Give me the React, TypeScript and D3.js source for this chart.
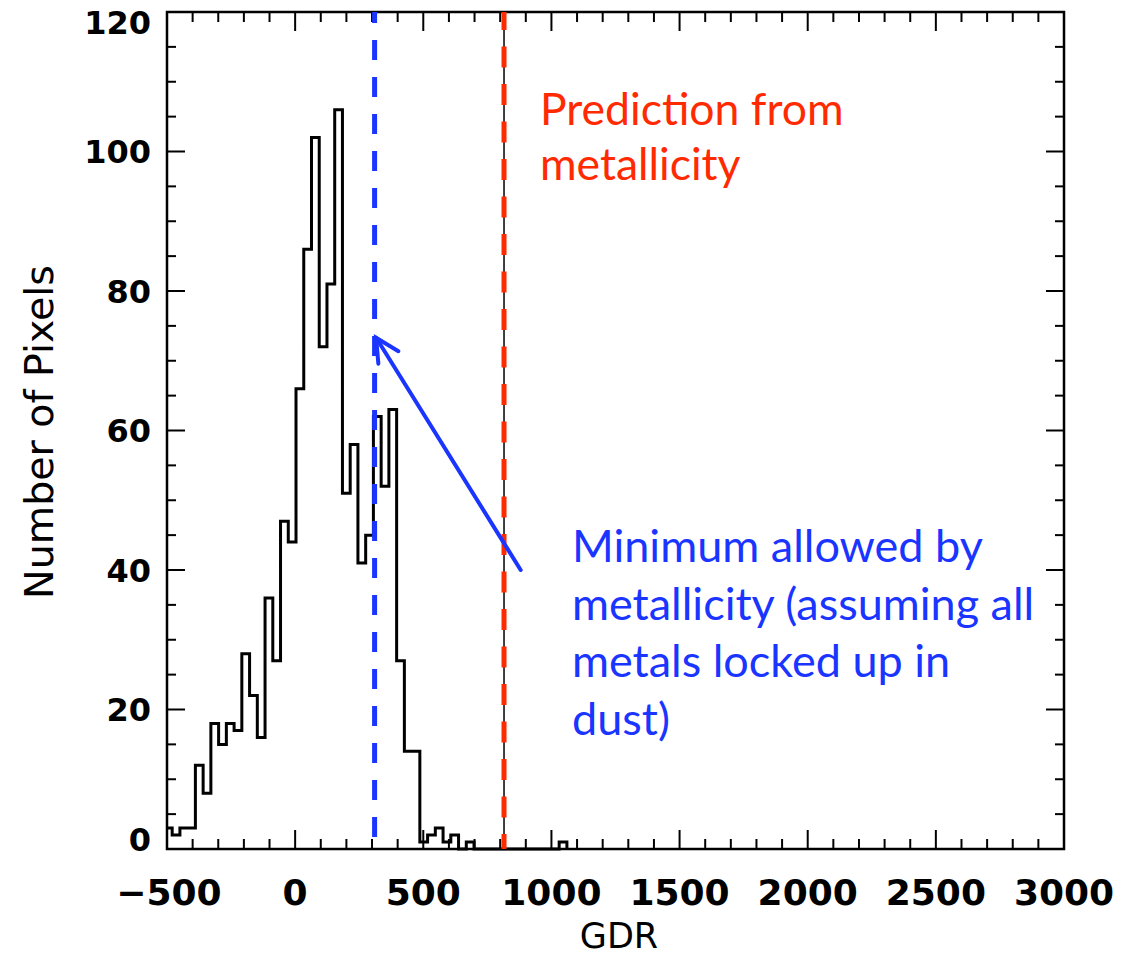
import React from "react";
import * as d3 from "d3";

// ---- data ----
const binStart = -510;
const binWidth = 30.2;
const counts = [
  3, 2, 3, 3, 12, 8, 18, 15, 18, 17, 28, 22, 16, 36, 27, 47, 44, 66, 86, 102, 72, 81, 106,
  51, 58, 41, 45, 62, 52, 63, 27, 14, 14, 1, 2, 3, 1, 2, 0, 1, 0, 0, 0, 0, 0, 0, 0, 0, 0, 0,
  0, 1,
];
const xTicksMajor = [-500, 0, 500, 1000, 1500, 2000, 2500, 3000];
const yTicksMajor = [0, 20, 40, 60, 80, 100, 120];
const minGDR = 310; // blue line
const predGDR = 815; // red line
const arrowFrom = [880, 40];
const arrowTo = [316, 73.3];
const redLines = ["Prediction from", "metallicity"];
const blueLines = ["Minimum allowed by", "metallicity (assuming all", "metals locked up in", "dust)"];

const W = 1126;
const H = 958;
const L = 167, R = 1064, T = 12, B = 849;
const RED = "#ff2a00";
const BLUE = "#1a35ff";

export default function App() {
  const x = d3.scaleLinear().domain([-500, 3000]).range([L, R]);
  const y = d3.scaleLinear().domain([0, 120]).range([B, T]);

  const pts: [number, number][] = counts.map((c, i) => [Math.max(binStart + i * binWidth, -500), c]);
  pts.push([binStart + counts.length * binWidth, counts[counts.length - 1]]);
  pts.push([binStart + counts.length * binWidth, 0]);
  const line = d3
    .line<[number, number]>()
    .x((d) => x(d[0]))
    .y((d) => y(d[1]))
    .curve(d3.curveStepAfter);

  const xMinor = d3.range(-500, 3001, 100);
  const yMinor = d3.range(0, 121, 5);

  const tip = [x(arrowTo[0]), y(arrowTo[1])];
  const tail = [x(arrowFrom[0]), y(arrowFrom[1])];
  const ang = Math.atan2(tail[1] - tip[1], tail[0] - tip[0]);
  const hl = 26;
  const ha = (27 * Math.PI) / 180;
  const h1 = [tip[0] + hl * Math.cos(ang - ha), tip[1] + hl * Math.sin(ang - ha)];
  const h2 = [tip[0] + hl * Math.cos(ang + ha), tip[1] + hl * Math.sin(ang + ha)];

  const tickFont = "DejaVu Sans";
  const yLabelShift = (v: number) => (v === 0 ? -10 : v === 120 ? 10 : 0);
  return (
    <svg width={W} height={H} style={{ position: "absolute", left: 0, top: 0, background: "#fff" }}>
      <rect x={0} y={0} width={W} height={H} fill="#fff" />
      {/* histogram */}
      <path d={line(pts) || ""} fill="none" stroke="#000" strokeWidth={3} strokeLinejoin="miter" />

      {/* x ticks */}
      {xMinor.map((v) => {
        const major = v % 500 === 0;
        const len = major ? 19 : 10;
        return (
          <g key={"xt" + v} stroke="#000" strokeWidth={2}>
            <line x1={x(v)} x2={x(v)} y1={B} y2={B - len} />
            <line x1={x(v)} x2={x(v)} y1={T} y2={T + len} />
          </g>
        );
      })}
      {yMinor.map((v) => {
        const major = v % 20 === 0;
        const len = major ? 18 : 9;
        return (
          <g key={"yt" + v} stroke="#000" strokeWidth={2}>
            <line x1={L} x2={L + len} y1={y(v)} y2={y(v)} />
            <line x1={R} x2={R - len} y1={y(v)} y2={y(v)} />
          </g>
        );
      })}
      <rect x={L} y={T} width={R - L} height={B - T} fill="none" stroke="#000" strokeWidth={2.5} />

      {/* tick labels */}
      {xTicksMajor.map((v) => (
        <text
          key={"xl" + v}
          x={x(v) + (v < 0 ? 2 : 0)}
          y={B + 56}
          textAnchor="middle"
          fontFamily={tickFont}
          fontWeight="bold"
          fontSize={36}
        >
          {v < 0 ? "\u2212" + Math.abs(v) : String(v)}
        </text>
      ))}
      {yTicksMajor.map((v) => (
        <text
          key={"yl" + v}
          x={151}
          y={y(v) + yLabelShift(v)}
          dy="0.36em"
          textAnchor="end"
          fontFamily={tickFont}
          fontWeight="bold"
          fontSize={32}
        >
          {v}
        </text>
      ))}
      <text x={619} y={948} textAnchor="middle" fontFamily={tickFont} fontSize={35}>
        GDR
      </text>
      <text
        transform={`translate(53, 432) rotate(-90)`}
        textAnchor="middle"
        fontFamily={tickFont}
        fontSize={39.5}
      >
        Number of Pixels
      </text>

      {/* reference lines */}
      <line x1={x(predGDR)} x2={x(predGDR)} y1={T} y2={B} stroke="#000" strokeWidth={1.5} />
      <line
        x1={x(predGDR)}
        x2={x(predGDR)}
        y1={T}
        y2={B}
        stroke={RED}
        strokeWidth={5}
        strokeDasharray="21 16.5"
        strokeDashoffset={3}
      />
      <line
        x1={x(minGDR)}
        x2={x(minGDR)}
        y1={T}
        y2={B}
        stroke={BLUE}
        strokeWidth={5}
        strokeDasharray="20 17"
        strokeDashoffset={9}
      />

      {/* arrow */}
      <g stroke={BLUE} strokeWidth={4} strokeLinecap="round" fill="none">
        <line x1={tail[0]} y1={tail[1]} x2={tip[0]} y2={tip[1]} />
        <polyline points={`${h1[0]},${h1[1]} ${tip[0]},${tip[1]} ${h2[0]},${h2[1]}`} />
      </g>

      {/* annotations */}
      {redLines.map((s, i) => (
        <text key={"r" + i} x={540} y={125 + i * 55} fill={RED} fontFamily="Lato" fontSize={44.5}>
          {s}
        </text>
      ))}
      {blueLines.map((s, i) => (
        <text key={"b" + i} x={572} y={562 + i * 57.5} fill={BLUE} fontFamily="Lato" fontSize={45}>
          {s}
        </text>
      ))}
    </svg>
  );
}
